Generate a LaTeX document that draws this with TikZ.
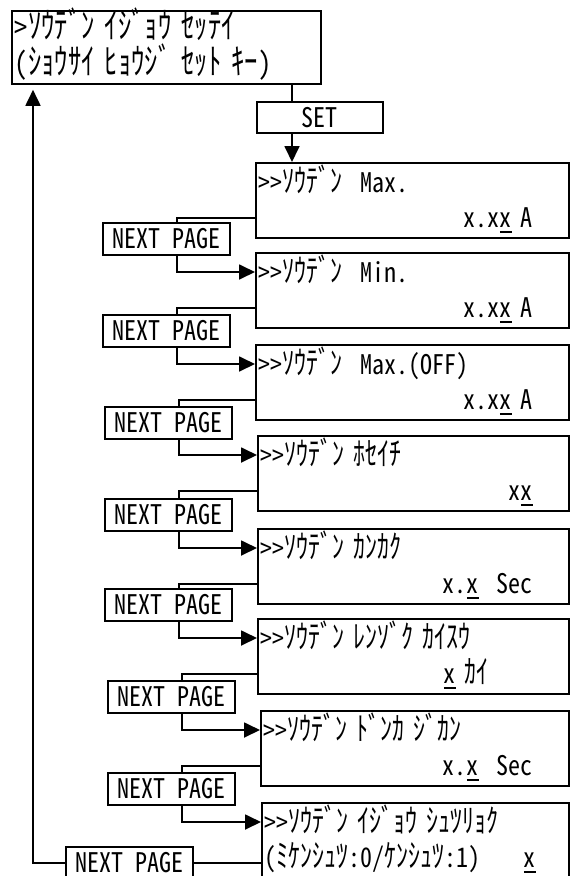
\documentclass[tikz,border=0pt]{standalone}
\usepackage{fontspec}
\setmainfont[RawFeature={+hwid}, FakeStretch=0.889]{Noto Sans CJK JP}
\newfontfamily\kanafont[Scale=1.2, FakeStretch=0.74]{Noto Sans CJK JP}
\usetikzlibrary{arrows.meta,calc}
\newcommand{\lcd}{\fontsize{27}{35}\selectfont\spaceskip=12pt\xspaceskip=12pt\relax}
\newcommand{\lcdtop}{\fontsize{30}{36}\selectfont\spaceskip=13.3pt\xspaceskip=13.3pt\relax}
\newcommand{\kn}[1]{{\kanafont #1}}
\newcommand{\ul}[1]{\setbox0=\hbox{#1}\rlap{\copy0}\rule[-5pt]{\wd0}{2pt}}
\tikzset{
  screen/.style={draw, line width=1.8pt, anchor=north west, align=left, font=\lcd,
    inner xsep=3pt, inner ysep=3pt, text height=27pt, text depth=42pt},
  keybox/.style={draw, line width=1.8pt, anchor=north west, font=\lcd, inner sep=0pt,
    minimum width=127pt, minimum height=32pt},
  wire/.style={line width=1.8pt},
  arr/.style={-{Triangle[length=16pt,width=15pt]}},
}
% one LCD page: name, left, top, first line, second line
\newcommand{\screen}[5]{
  \pgfmathsetmacro{\tw}{562-#2}
  \node[screen, text width=\tw pt] (#1) at (#2,-#3) {#4\\#5};
}
\newcommand{\nextpage}[3]{
  \node[keybox] (#1) at (#2,-#3) {NEXT PAGE};
}

\begin{document}
\begin{tikzpicture}[x=1pt,y=1pt]
    \useasboundingbox (0,0) rectangle (572,-876);
    \clip (0,0) rectangle (572,-876);
    \node[screen, font=\lcdtop, text width=303pt, text height=25pt] (menu) at (11,-10)
      {>\kn{ｿｳﾃﾞﾝ ｲｼﾞｮｳ ｾｯﾃｲ}\\(\kn{ｼｮｳｻｲ ﾋｮｳｼﾞ ｾｯﾄ ｷｰ})};
    \node[keybox, minimum width=126pt, minimum height=31pt] (set) at (256,-101) {SET};
    \screen{scr1}{255}{162}{>{}>\kn{ｿｳﾃﾞﾝ}~ Max.}{\hfill x.x\ul{x} A\kern33pt}
    \screen{scr2}{255}{252}{>{}>\kn{ｿｳﾃﾞﾝ}~ Min.}{\hfill x.x\ul{x} A\kern33pt}
    \screen{scr3}{255}{344}{>{}>\kn{ｿｳﾃﾞﾝ}~ Max.(OFF)}{\hfill x.x\ul{x} A\kern33pt}
    \screen{scr4}{257}{435}{>{}>\kn{ｿｳﾃﾞﾝ ﾎｾｲﾁ}}{\hfill x\ul{x}\kern33pt}
    \screen{scr5}{257}{528}{>{}>\kn{ｿｳﾃﾞﾝ ｶﾝｶｸ}}{\hfill x.\ul{x}~~Sec\kern33pt}
    \screen{scr6}{257}{618}{>{}>\kn{ｿｳﾃﾞﾝ ﾚﾝｿﾞｸ ｶｲｽｳ}}{\hfill\ul{x} \kn{ｶｲ}\kern77pt}
    \screen{scr7}{260}{710}{>{}>\kn{ｿｳﾃﾞﾝ ﾄﾞﾝｶ ｼﾞｶﾝ}}{\hfill x.\ul{x}~~Sec\kern33pt}
    \screen{scr8}{261}{802}{>{}>\kn{ｿｳﾃﾞﾝ ｲｼﾞｮｳ ｼｭﾂﾘｮｸ}}{(\kn{ﾐｹﾝｼｭﾂ}:0/\kn{ｹﾝｼｭﾂ}:1)\hfill\ul{x}\kern30pt}
    \nextpage{np1}{102}{222}
    \nextpage{np2}{102}{314}
    \nextpage{np3}{104}{406}
    \nextpage{np4}{104}{498}
    \nextpage{np5}{104}{588}
    \nextpage{np6}{107}{680}
    \nextpage{np7}{107}{772}
    \node[keybox, anchor=west] (np8) at (65,-863) {NEXT PAGE};
    % SET key
    \coordinate (setin) at ([xshift=36pt]set.north west);
    \draw[wire] (setin) -- (setin |- menu.south);
    \draw[wire,arr] (setin |- set.south) -- (setin |- scr1.north);
    % page to page
    \foreach \i in {1,...,7} {
      \pgfmathtruncatemacro{\j}{\i+1}
      \draw[wire] ([yshift=-17.5pt]scr\i.west) -| ([xshift=75pt]np\i.north west);
      \draw[wire,arr] ([xshift=75pt]np\i.south west) |- ([yshift=-20pt]scr\j.north west);
    }
    % back to the top
    \draw[wire] (np8.east) -- (np8.east -| scr8.west);
    \draw[wire,arr,shorten >=5pt] (np8.west) -| ([xshift=22pt]menu.south west);
\end{tikzpicture}
\end{document}
